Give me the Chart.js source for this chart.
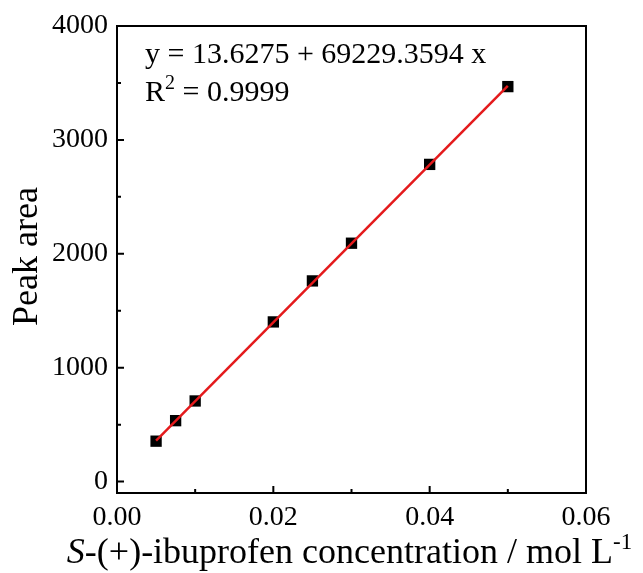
<!DOCTYPE html>
<html lang="en">
<head>
<meta charset="UTF-8">
<title>Peak area calibration</title>
<style>
  html, body { margin: 0; padding: 0; background: #fff; }
  .chart-wrap { width: 643px; height: 573px; }
</style>
</head>
<body>
<div class="chart-wrap"><canvas id="calib" width="643" height="573"></canvas></div>
<script src="https://cdn.jsdelivr.net/npm/chart.js"></script>
<script>
// Standards: concentration (mol/L) and measured peak area
const concentrations = [0.005, 0.0075, 0.01, 0.02, 0.025, 0.03, 0.04, 0.05];
const peakAreas = [355, 535, 708, 1402, 1762, 2093, 2785, 3468];

// Linear fit as reported on the plot
const fitIntercept = 13.6275;
const fitSlope = 69229.3594;
const fitR2 = '0.9999';
const fitRange = [0.005, 0.05];

// Axis ticks
const xTicks = [0, 0.02, 0.04, 0.06];
const yTicks = [0, 1000, 2000, 3000, 4000];

const SERIF = '"Liberation Serif", "Times New Roman", serif';

const fitPoints = fitRange.map(x => ({ x: x, y: fitIntercept + fitSlope * x }));
const dataPoints = concentrations.map((c, i) => ({ x: c, y: peakAreas[i] }));

// Draws a run of text pieces (italic / superscript) starting at x
function drawRuns(ctx, runs, x, y, size) {
    runs.forEach(r => {
        const fs = r.sup ? Math.round(size * 0.65) : size;
        ctx.font = (r.italic ? 'italic ' : '') + fs + 'px ' + SERIF;
        ctx.fillText(r.text, x, r.sup ? y - size * 0.4 : y);
        x += ctx.measureText(r.text).width;
    });
    return x;
}

function runsWidth(ctx, runs, size) {
    let w = 0;
    runs.forEach(r => {
        const fs = r.sup ? Math.round(size * 0.65) : size;
        ctx.font = (r.italic ? 'italic ' : '') + fs + 'px ' + SERIF;
        w += ctx.measureText(r.text).width;
    });
    return w;
}

// Frame, inward ticks, axis titles and the fit equation
const framePlugin = {
    id: 'frame',
    afterDraw(chart) {
        const { ctx, chartArea: a, scales } = chart;
        ctx.save();
        ctx.strokeStyle = '#000';
        ctx.lineWidth = 2;
        ctx.strokeRect(a.left, a.top, a.right - a.left, a.bottom - a.top);

        // inward ticks, minor ones halfway between majors
        ctx.beginPath();
        for (let i = 0; i < xTicks.length; i++) {
            const px = scales.x.getPixelForValue(xTicks[i]);
            ctx.moveTo(px, a.bottom); ctx.lineTo(px, a.bottom - 7);
            if (i < xTicks.length - 1) {
                const mx = scales.x.getPixelForValue((xTicks[i] + xTicks[i + 1]) / 2);
                ctx.moveTo(mx, a.bottom); ctx.lineTo(mx, a.bottom - 4);
            }
        }
        for (let i = 0; i < yTicks.length; i++) {
            const py = scales.y.getPixelForValue(yTicks[i]);
            ctx.moveTo(a.left, py); ctx.lineTo(a.left + 7, py);
            if (i < yTicks.length - 1) {
                const my = scales.y.getPixelForValue((yTicks[i] + yTicks[i + 1]) / 2);
                ctx.moveTo(a.left, my); ctx.lineTo(a.left + 4, my);
            }
        }
        ctx.stroke();

        ctx.fillStyle = '#000';
        ctx.textBaseline = 'alphabetic';
        ctx.textAlign = 'left';

        // fit equation
        ctx.font = '30px ' + SERIF;
        ctx.fillText('y = ' + fitIntercept + ' + ' + fitSlope + ' x', 145, 63);
        drawRuns(ctx, [{ text: 'R' }, { text: '2', sup: true }, { text: ' = ' + fitR2 }], 145, 101, 30);

        // x axis title
        const xRuns = [
            { text: 'S', italic: true },
            { text: '-(+)-ibuprofen concentration / mol L' },
            { text: '-1', sup: true }
        ];
        const w = runsWidth(ctx, xRuns, 36);
        drawRuns(ctx, xRuns, (a.left + a.right) / 2 - w / 2 - 2, 563, 36);

        // y axis title
        ctx.translate(37, (a.top + a.bottom) / 2 - 3);
        ctx.rotate(-Math.PI / 2);
        ctx.textAlign = 'center';
        ctx.font = '36px ' + SERIF;
        ctx.fillText('Peak area', 0, 0);
        ctx.restore();
    }
};

new Chart(document.getElementById('calib'), {
    type: 'scatter',
    data: {
        datasets: [
            {
                label: 'fit',
                data: fitPoints,
                showLine: true,
                borderColor: '#e41a1c',
                borderWidth: 2.5,
                pointRadius: 0
            },
            {
                label: 'standards',
                data: dataPoints,
                pointStyle: 'rect',
                pointRadius: 8,
                backgroundColor: '#000',
                borderColor: '#000',
                borderWidth: 0
            }
        ]
    },
    options: {
        responsive: false,
        animation: false,
        devicePixelRatio: 1,
        layout: { padding: { left: 0, top: 26, right: 57, bottom: 0 } },
        plugins: {
            legend: { display: false },
            tooltip: { enabled: false }
        },
        scales: {
            x: {
                type: 'linear',
                min: 0,
                max: 0.06,
                afterBuildTicks: s => { s.ticks = xTicks.map(v => ({ value: v })); },
                afterFit: s => { s.height = 80; },
                grid: { display: false, drawTicks: false },
                border: { display: false },
                ticks: {
                    color: '#000',
                    font: { family: SERIF, size: 28 },
                    padding: 8,
                    maxRotation: 0,
                    autoSkip: false,
                    callback: v => v.toFixed(2)
                }
            },
            y: {
                type: 'linear',
                min: -100,
                max: 4000,
                afterBuildTicks: s => { s.ticks = yTicks.map(v => ({ value: v })); },
                afterFit: s => { s.width = 117; },
                grid: { display: false, drawTicks: false },
                border: { display: false },
                ticks: {
                    color: '#000',
                    font: { family: SERIF, size: 28 },
                    padding: 9,
                    autoSkip: false,
                    callback: v => String(v)
                }
            }
        }
    },
    plugins: [framePlugin]
});
</script>
</body>
</html>
